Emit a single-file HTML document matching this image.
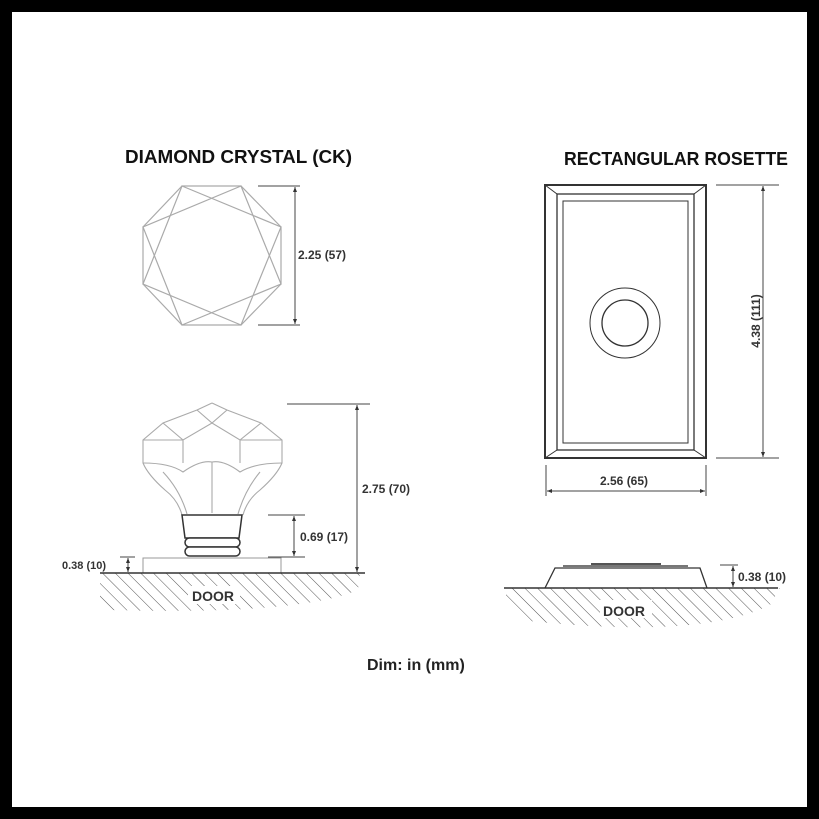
<!DOCTYPE html>
<html><head><style>
html,body{margin:0;padding:0;background:#000;}
svg{display:block}
text{font-family:"Liberation Sans",Arial,sans-serif;font-weight:bold;fill:#333}
</style></head><body>
<svg width="819" height="819" viewBox="0 0 819 819" xmlns="http://www.w3.org/2000/svg">
<defs>
<marker id="a" viewBox="0 0 10 10" refX="10" refY="5" markerWidth="5" markerHeight="5" orient="auto-start-reverse"><path d="M0,1L10,5L0,9z" fill="#333"/></marker>
<pattern id="h" width="9" height="9" patternUnits="userSpaceOnUse" patternTransform="rotate(-45)"><line x1="0" y1="0" x2="0" y2="9" stroke="#555" stroke-width="1"/></pattern>
</defs>
<rect x="12" y="12" width="795" height="795" fill="#fff"/>
<text x="125" y="163" font-size="18" style="fill:#111" textLength="227" lengthAdjust="spacingAndGlyphs">DIAMOND CRYSTAL (CK)</text>
<text x="564" y="165" font-size="18" style="fill:#111" textLength="224" lengthAdjust="spacingAndGlyphs">RECTANGULAR ROSETTE</text>
<!-- octagon -->
<g fill="none" stroke="#aaa" stroke-width="1.2">
<polygon points="182,186 241,186 281,227 281,284 241,325 182,325 143,284 143,227"/>
<polygon points="182,186 281,227 241,325 143,284"/>
<polygon points="241,186 281,284 182,325 143,227"/>
</g>
<g stroke="#444" stroke-width="1"><line x1="258" y1="186" x2="300" y2="186"/><line x1="258" y1="325" x2="300" y2="325"/><line x1="295" y1="187" x2="295" y2="324" marker-start="url(#a)" marker-end="url(#a)"/></g>
<text x="298" y="259" font-size="12">2.25 (57)</text>
<!-- knob side -->
<g fill="none" stroke="#aaa" stroke-width="1.1">
<path d="M212,403L197,410L163,423L143,440L143,463Q148,475 165,490Q178,500 182,515M212,403L227,410L261,423L282,440L282,463Q277,475 260,490Q247,500 243,515"/>
<path d="M163,423L183,440L212,423L240,440L261,423M197,410L212,423L227,410M183,440L183,463M240,440L240,463M143,440L183,440M240,440L282,440"/>
<path d="M143,463Q170,463 183,472Q200,460 212,462Q224,460 240,472Q255,463 282,463M212,462L212,513M163,472Q180,490 187,514M260,472Q245,490 238,514"/>
</g>
<g fill="#fff" stroke="#333" stroke-width="1.5">
<path d="M182,515L242,515L239,538L185,538Z"/>
<rect x="185" y="538" width="55" height="9" rx="4.5"/>
<rect x="185" y="547" width="55" height="9" rx="4.5"/>
</g>
<rect x="143" y="558" width="138" height="15" fill="none" stroke="#999" stroke-width="1"/>
<path d="M100,573H360L358,590Q300,615 110,610L100,600Z" fill="url(#h)"/>
<line x1="100" y1="573" x2="365" y2="573" stroke="#333" stroke-width="1.5"/>
<rect x="188" y="586" width="52" height="18" fill="#fff"/>
<text x="192" y="601" font-size="14">DOOR</text>
<g stroke="#444" stroke-width="1">
<line x1="287" y1="404" x2="370" y2="404"/><line x1="357" y1="405" x2="357" y2="572" marker-start="url(#a)" marker-end="url(#a)"/>
<line x1="268" y1="515" x2="305" y2="515"/><line x1="268" y1="557" x2="305" y2="557"/><line x1="294" y1="516" x2="294" y2="556" marker-start="url(#a)" marker-end="url(#a)"/>
<line x1="120" y1="557" x2="135" y2="557"/><line x1="128" y1="558" x2="128" y2="572" marker-start="url(#a)" marker-end="url(#a)"/>
</g>
<text x="362" y="493" font-size="12">2.75 (70)</text>
<text x="300" y="541" font-size="12">0.69 (17)</text>
<text x="62" y="569" font-size="11">0.38 (10)</text>
<!-- rosette -->
<g fill="none" stroke="#333" stroke-width="1.3">
<rect x="545" y="185" width="161" height="273" stroke-width="2"/>
<rect x="557" y="194" width="137" height="256"/>
<rect x="563" y="201" width="125" height="242" stroke-width="1"/>
<path d="M545,185L557,194M706,185L694,194M545,458L557,450M706,458L694,450" stroke-width="1"/>
<circle cx="625" cy="323" r="35" stroke-width="1"/>
<circle cx="625" cy="323" r="23"/>
</g>
<g stroke="#444" stroke-width="1">
<line x1="716" y1="185" x2="779" y2="185"/><line x1="716" y1="458" x2="779" y2="458"/><line x1="763" y1="186" x2="763" y2="457" marker-start="url(#a)" marker-end="url(#a)"/>
<line x1="546" y1="465" x2="546" y2="496"/><line x1="706" y1="465" x2="706" y2="496"/><line x1="547" y1="491" x2="705" y2="491" marker-start="url(#a)" marker-end="url(#a)"/>
</g>
<text x="600" y="485" font-size="12">2.56 (65)</text>
<text transform="translate(760,321) rotate(-90)" font-size="12" text-anchor="middle">4.38 (111)</text>
<!-- rosette side -->
<path d="M506,588H780L770,605Q700,640 520,620L506,600Z" fill="url(#h)"/>
<path d="M545,588L555,568H700L707,588" fill="#fff" stroke="#333" stroke-width="1.3"/>
<line x1="563" y1="566" x2="688" y2="566" stroke="#777" stroke-width="2"/>
<line x1="591" y1="564" x2="661" y2="564" stroke="#555" stroke-width="2"/>
<line x1="504" y1="588" x2="778" y2="588" stroke="#333" stroke-width="1.5"/>
<rect x="600" y="600" width="52" height="18" fill="#fff"/>
<text x="603" y="616" font-size="14">DOOR</text>
<g stroke="#444" stroke-width="1"><line x1="720" y1="565" x2="738" y2="565"/><line x1="733" y1="566" x2="733" y2="587" marker-start="url(#a)" marker-end="url(#a)"/></g>
<text x="738" y="581" font-size="12">0.38 (10)</text>
<text x="367" y="670" font-size="16" style="fill:#222">Dim: in (mm)</text>
</svg>
</body></html>
